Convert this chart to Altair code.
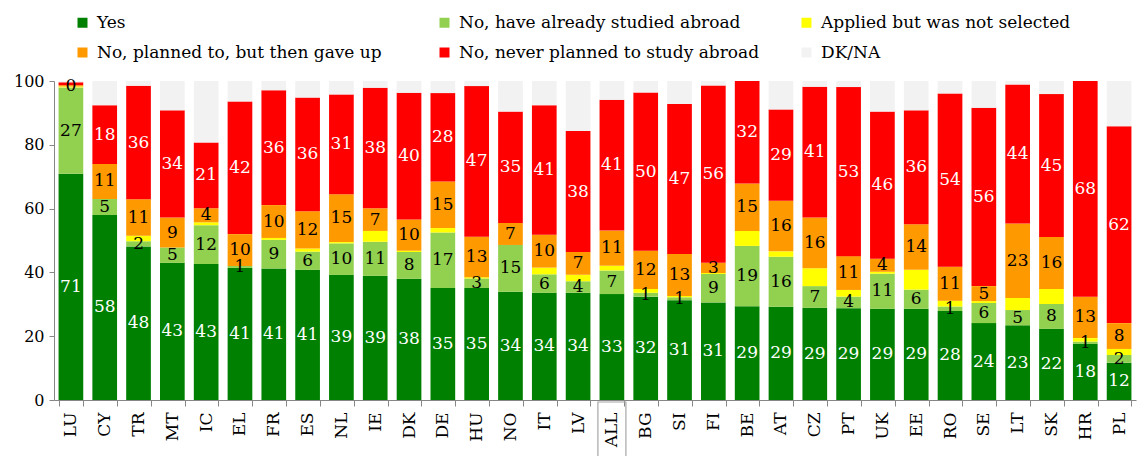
import altair as alt
import pandas as pd

countries = ["LU", "CY", "TR", "MT", "IC", "EL", "FR", "ES", "NL", "IE", "DK", "DE", "HU", "NO", "IT", "LV",
             "ALL", "BG", "SI", "FI", "BE", "AT", "CZ", "PT", "UK", "EE", "RO", "SE", "LT", "SK", "HR", "PL"]

series_names = ["Yes", "No, have already studied abroad", "Applied but was not selected",
                "No, planned to, but then gave up", "No, never planned to study abroad", "DK/NA"]

yes =     [70.9, 58.0, 48.1, 43.0, 42.6, 41.4, 41.2, 40.8, 39.2, 38.9, 38.0, 35.1, 35.1, 33.9, 33.6, 33.6,
           33.2, 32.4, 31.3, 30.6, 29.4, 29.2, 28.9, 28.8, 28.6, 28.6, 27.9, 24.1, 23.4, 22.3, 17.6, 11.7]
already = [27.1, 5.0, 1.7, 4.8, 12.2, 0.6, 9.0, 5.7, 9.9, 10.7, 8.4, 17.4, 3.0, 14.7, 5.8, 3.6,
           7.4, 1.2, 0.9, 8.9, 18.9, 15.7, 6.8, 3.6, 11.0, 6.0, 1.4, 6.3, 4.8, 7.8, 0.7, 2.4]
applied = [0.3, 0.0, 1.7, 0.0, 0.9, 0.0, 0.6, 1.0, 0.4, 3.4, 0.4, 1.4, 0.4, 0.0, 2.1, 2.1,
           1.5, 1.2, 0.4, 0.3, 4.7, 1.7, 5.6, 2.1, 0.6, 6.2, 1.8, 0.6, 3.8, 4.7, 1.1, 1.9]
gaveup =  [0.4, 11.0, 11.4, 9.4, 4.4, 10.0, 10.3, 11.7, 15.0, 7.1, 9.8, 14.6, 12.7, 6.9, 10.3, 7.1,
           11.0, 12.0, 13.2, 3.2, 14.9, 15.9, 15.9, 10.6, 4.1, 14.3, 10.7, 4.7, 23.3, 16.3, 13.0, 8.1]
never =   [0.9, 18.4, 35.6, 33.6, 20.6, 41.6, 36.0, 35.6, 31.3, 37.8, 39.7, 27.7, 47.2, 34.9, 40.6, 37.9,
           41.0, 49.6, 47.0, 55.6, 32.1, 28.6, 41.0, 53.0, 46.1, 35.7, 54.3, 55.9, 43.6, 44.8, 67.6, 61.7]
dkna =    [0.4, 7.6, 1.5, 9.2, 19.3, 6.4, 2.9, 5.2, 4.2, 2.1, 3.7, 3.8, 1.6, 9.6, 7.6, 15.7,
           5.9, 3.6, 7.2, 1.4, 0.0, 8.9, 1.8, 1.9, 9.6, 9.2, 3.9, 8.4, 1.1, 4.1, 0.0, 14.2]

colors = ["#008000", "#92D050", "#FFFF00", "#FF9900", "#FF0000", "#F2F2F2"]
label_colors = ["#FFFFFF", "#000000", None, "#000000", "#FFFFFF", None]
hidden_labels = [("LU", "No, never planned to study abroad")]
highlight = ["ALL"]

FONT = "DejaVu Serif"

rows = []
for i, c in enumerate(countries):
    for k, (name, vals) in enumerate(zip(series_names, [yes, already, applied, gaveup, never, dkna])):
        show = label_colors[k] is not None and (c, name) not in hidden_labels
        rows.append(dict(country=c, series=name, order=k, value=vals[i],
                         show=show, tcolor=label_colors[k] or "#000000"))
df = pd.DataFrame(rows)

xscale = alt.Scale(paddingInner=0.27, paddingOuter=0.135)
xenc = alt.X("country:N", sort=countries, scale=xscale,
             axis=alt.Axis(title=None, labelAngle=270, labelFont=FONT, labelFontSize=17,
                           labelColor="#000000", tickBand="extent", tickSize=6,
                           tickColor="#868686", domainColor="#868686", labelPadding=6))

base = alt.Chart(df).transform_stack(
    stack="value", groupby=["country"], sort=[alt.SortField("order", "ascending")], as_=["y0", "y1"]
).transform_calculate(mid="(datum.y0 + datum.y1) / 2")

bars = base.mark_bar().encode(
    x=xenc,
    y=alt.Y("y0:Q", scale=alt.Scale(domain=[0, 100], nice=False),
            axis=alt.Axis(title=None, values=[0, 20, 40, 60, 80, 100], grid=False,
                          labelFont=FONT, labelFontSize=16, labelColor="#000000",
                          tickColor="#868686", domainColor="#868686", tickSize=5, labelPadding=5)),
    y2="y1:Q",
    color=alt.Color("series:N", scale=alt.Scale(domain=series_names, range=colors),
                    legend=alt.Legend(title=None, orient="none", legendX=20, legendY=-67,
                                      direction="horizontal",
                                      columns=3, gridAlign="all", columnPadding=38, rowPadding=12,
                                      symbolType="square", symbolSize=100, symbolStrokeWidth=0,
                                      symbolOffset=0, labelOffset=6,
                                      labelFont=FONT, labelFontSize=17, labelColor="#000000",
                                      labelLimit=500)),
    order=alt.Order("order:Q"),
)

texts = base.transform_filter("datum.show").mark_text(
    font=FONT, fontSize=17, baseline="middle", align="center"
).encode(
    x=alt.X("country:N", sort=countries, scale=xscale),
    y=alt.Y("mid:Q"),
    text=alt.Text("value:Q", format=".0f"),
    color=alt.Color("tcolor:N", scale=None),
)

box = alt.Chart(pd.DataFrame({"country": highlight})).mark_bar(
    filled=False, stroke="#A6A6A6", strokeWidth=1.2, size=28, clip=False
).encode(
    x=alt.X("country:N", sort=countries, scale=xscale),
    y=alt.value(321),
    y2=alt.value(385),
)

chart = alt.layer(bars, texts, box).properties(
    width=1082, height=319,
    autosize=alt.AutoSizeParams(type="none"),
    padding={"left": 46, "top": 73, "right": 2, "bottom": 56},
).configure_view(stroke=None)

chart.save("out.html", embed_options={"renderer": "svg", "actions": False})
